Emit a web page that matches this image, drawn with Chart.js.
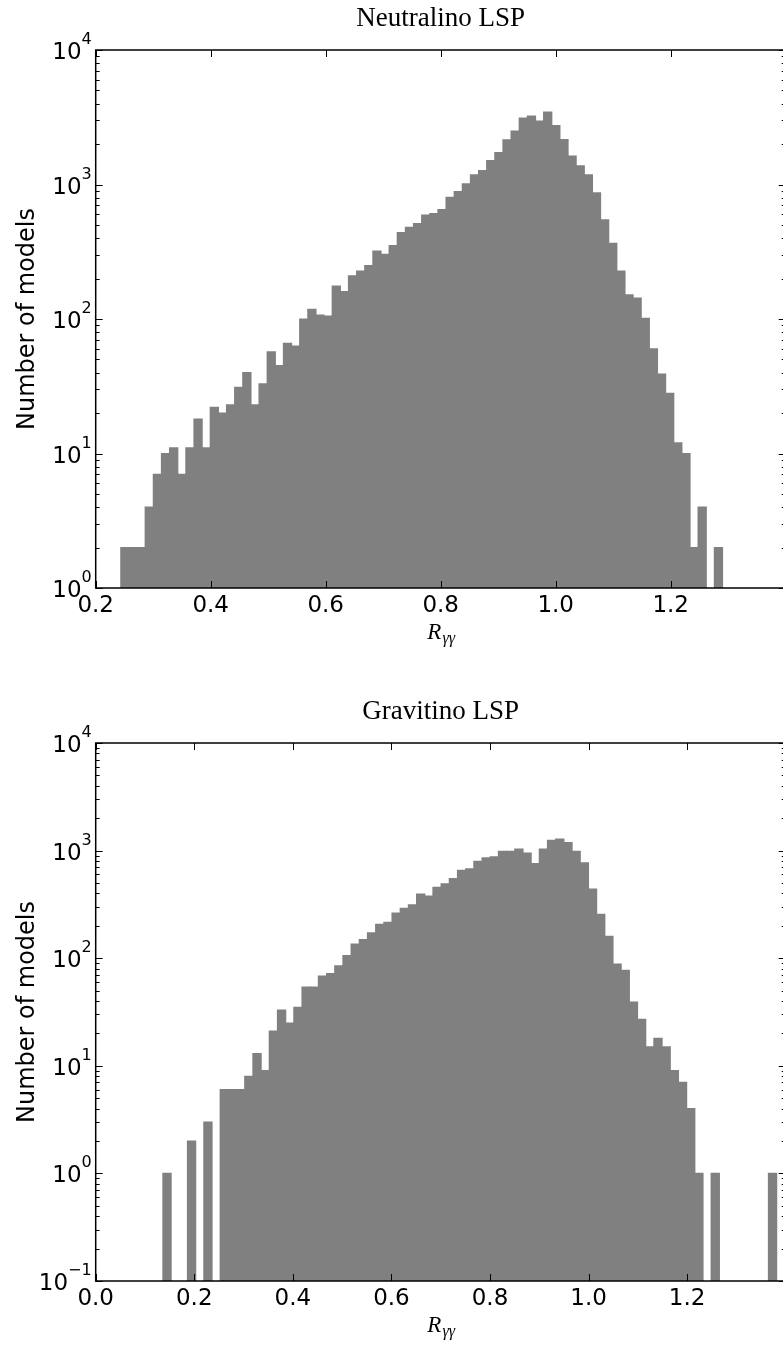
<!DOCTYPE html>
<html>
<head>
<meta charset="utf-8">
<title>R_gammagamma histograms</title>
<script src="https://cdn.jsdelivr.net/npm/chart.js@4.4.1/dist/chart.umd.min.js"></script>
<style>
  html, body { margin: 0; padding: 0; background: #fff; overflow: hidden; }
  .panel { position: absolute; left: 0; width: 790px; height: 674px; }
</style>
</head>
<body>
<div class="panel" style="top:0"><canvas id="neutralinoChart"></canvas></div>
<div class="panel" style="top:692.7px"><canvas id="gravitinoChart"></canvas></div>
<script>
// counts per bin (null = empty bin)
var neutralinoCounts = [2, 2, 2, 4, 7, 10, 11, 7, 11, 18, 11, 22, 20, 23, 31, 40, 23, 33, 57, 45, 66, 63,
    100, 118, 107, 105, 176, 160, 209, 227, 249, 320, 303, 351, 438, 481, 512, 593, 607, 650,
    804, 885, 1010, 1178, 1268, 1504, 1725, 2144, 2500, 3122, 3229, 2965, 3459, 2736, 2153, 1629,
    1374, 1178, 865, 545, 365, 227, 151, 143, 101,
    60, 39, 28, 12, 10, 2, 4, null, 2];
var gravitinoCounts = [1, null, null, 2, null, 3, null, 6, 6, 6, 8, 13, 9, 21, 33, 25, 35, 54, 54,
    68, 72, 85, 106, 135, 149, 172, 206, 215, 262, 290, 314, 394, 377, 456, 492, 550, 657, 677,
    796, 855, 874, 986, 986, 1030, 950, 758, 1030, 1248, 1276, 1189, 986, 768, 438, 256, 160,
    88, 77, 39, 27, 15, 18, 15, 9, 7, 4, 1, null, 1, null, null, null, null, null, null, 1];

// histogram range (first bin edge, last bin edge)
var neutralinoBinRange = [0.2437, 1.2901];
var gravitinoBinRange = [0.1364, 1.3816];

var neutralinoXTicks = [0.2, 0.4, 0.6, 0.8, 1.0, 1.2];
var gravitinoXTicks = [0.0, 0.2, 0.4, 0.6, 0.8, 1.0, 1.2];
var neutralinoYTicks = [1, 10, 100, 1000, 10000];
var gravitinoYTicks = [0.1, 1, 10, 100, 1000, 10000];

function binPoints(counts, range) {
    var w = (range[1] - range[0]) / counts.length;
    return counts.map(function(c, i) { return { x: range[0] + (i + 0.5) * w, y: c }; });
}

// matplotlib-like frame: spines, inward ticks on all four sides,
// 10^n tick labels with a real superscript, and the R_gg axis label
var framePlugin = {
    id: 'frame',
    afterDraw: function(chart) {
        var ctx = chart.ctx, a = chart.chartArea, x = chart.scales.x, y = chart.scales.y;
        ctx.save();
        ctx.strokeStyle = '#000';
        ctx.lineWidth = 1;
        ctx.beginPath();
        x.ticks.forEach(function(t) {
            var px = Math.round(x.getPixelForValue(t.value)) + 0.5;
            ctx.moveTo(px, a.bottom); ctx.lineTo(px, a.bottom - 7);
            ctx.moveTo(px, a.top); ctx.lineTo(px, a.top + 7);
        });
        for (var e = Math.round(Math.log10(y.min)); e < Math.round(Math.log10(y.max)) + 1; e++) {
            for (var m = 1; m < 10; m++) {
                var v = m * Math.pow(10, e);
                if (v < y.min * 0.999 || v > y.max * 1.001) continue;
                var py = Math.round(y.getPixelForValue(v)) + 0.5;
                var len = m === 1 ? 7 : 4;
                ctx.moveTo(a.left, py); ctx.lineTo(a.left + len, py);
                ctx.moveTo(a.right, py); ctx.lineTo(a.right - len, py);
            }
        }
        ctx.stroke();
        ctx.lineWidth = 1.5;
        ctx.strokeRect(a.left, a.top, a.right - a.left, a.bottom - a.top);

        ctx.fillStyle = '#000';
        ctx.textBaseline = 'alphabetic';

        // y tick labels: "10" with superscript exponent
        ctx.textAlign = 'right';
        y.ticks.forEach(function(t) {
            var py = y.getPixelForValue(t.value);
            var ex = String(Math.round(Math.log10(t.value))).replace('-', '\u2212');
            var right = a.left - 4;
            ctx.font = '16px "DejaVu Sans"';
            var wExp = ctx.measureText(ex).width;
            ctx.fillText(ex, right, py - 6);
            ctx.font = '23px "DejaVu Sans"';
            ctx.fillText('10', right - wExp, py + 9);
        });

        // x axis label R_{gamma gamma}
        ctx.textAlign = 'left';
        var bigFont = 'italic 23px "Liberation Serif"', smallFont = 'italic 16px "Liberation Serif"';
        ctx.font = bigFont;
        var wR = ctx.measureText('R').width;
        ctx.font = smallFont;
        var wG = ctx.measureText('\u03B3\u03B3').width;
        var x0 = (a.left + a.right) / 2 - (wR + wG) / 2;
        var base = a.bottom + 51;
        ctx.font = bigFont;
        ctx.fillText('R', x0, base);
        ctx.font = smallFont;
        ctx.fillText('\u03B3\u03B3', x0 + wR + 1, base + 4);
        ctx.restore();
    }
};

function makeChart(id, title, counts, binRange, xTicks, yTicks) {
    return new Chart(document.getElementById(id).getContext('2d'), {
        type: 'bar',
        data: {
            datasets: [{
                data: binPoints(counts, binRange),
                backgroundColor: '#808080',
                borderWidth: 0,
                inflateAmount: 0.6,
                barPercentage: 1,
                categoryPercentage: 1
            }]
        },
        options: {
            responsive: true,
            maintainAspectRatio: false,
            animation: false,
            devicePixelRatio: 1,
            layout: { padding: { left: 0, right: 4.3, top: 0, bottom: 0 } },
            plugins: {
                legend: { display: false },
                tooltip: { enabled: false },
                title: {
                    display: true,
                    text: title,
                    fullSize: false,
                    color: '#000',
                    font: { family: 'Liberation Serif', size: 27, weight: 'normal', lineHeight: 1 },
                    padding: { top: 5, bottom: 18 }
                }
            },
            scales: {
                x: {
                    type: 'linear',
                    min: xTicks[0],
                    max: 1.4,
                    offset: false,
                    grid: { display: false, drawTicks: false, offset: false },
                    border: { display: false },
                    afterBuildTicks: function(s) { s.ticks = xTicks.map(function(v) { return { value: v }; }); },
                    afterFit: function(s) { s.height = 86; },
                    ticks: {
                        color: '#000',
                        font: { family: 'DejaVu Sans', size: 23 },
                        padding: 4,
                        maxRotation: 0,
                        autoSkip: false,
                        callback: function(v) { return Number(v).toFixed(1); }
                    }
                },
                y: {
                    type: 'logarithmic',
                    min: yTicks[0],
                    max: yTicks[yTicks.length - 1],
                    grid: { display: false, drawTicks: false },
                    border: { display: false },
                    afterBuildTicks: function(s) { s.ticks = yTicks.map(function(v) { return { value: v }; }); },
                    afterFit: function(s) { s.width = 95.7; },
                    ticks: { display: false },
                    title: {
                        display: true,
                        text: 'Number of models',
                        color: '#000',
                        font: { family: 'DejaVu Sans', size: 24 },
                        padding: { top: 13, bottom: 0 }
                    }
                }
            }
        },
        plugins: [framePlugin]
    });
}

makeChart('neutralinoChart', 'Neutralino LSP', neutralinoCounts, neutralinoBinRange, neutralinoXTicks, neutralinoYTicks);
makeChart('gravitinoChart', 'Gravitino LSP', gravitinoCounts, gravitinoBinRange, gravitinoXTicks, gravitinoYTicks);
</script>
</body>
</html>
